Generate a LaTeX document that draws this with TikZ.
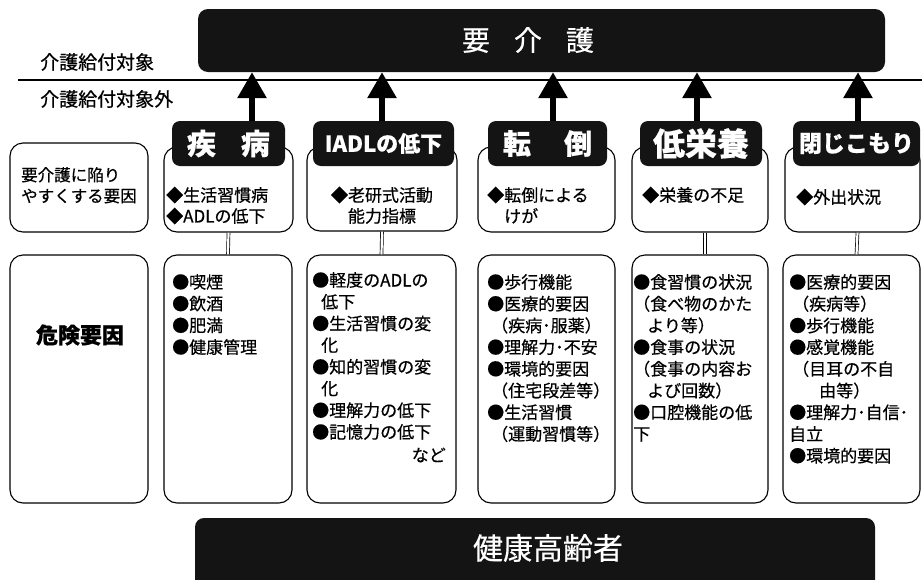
\documentclass[tikz,border=0pt]{standalone}
\usepackage{fontspec}
\setmainfont{Noto Sans CJK JP}[FakeBold=0.5]
\usetikzlibrary{arrows.meta}
\begin{document}
\begin{tikzpicture}[x=1pt,y=-1pt,
  wbox/.style={draw=black, line width=1.1pt, rounded corners=13pt, fill=white, inner sep=0pt},
  bbox/.style={fill=black!92, rounded corners=8pt, inner sep=0pt, text=white},
  lbl/.style={bbox, minimum height=45pt, font=\bfseries},
  body/.style={inner sep=0pt, anchor=north west, align=left, font=\fontsize{17}{21.7}\selectfont},
  ubody/.style={inner sep=0pt, anchor=north west, align=left, font=\fontsize{17}{21}\selectfont},
  side/.style={inner sep=0pt, anchor=west, font=\fontsize{19}{19}\selectfont},
  uparrow/.style={line width=6pt, -{Triangle[width=28pt,length=26pt]}},
  link/.style={double, double distance=2.2pt, line width=0.7pt}
]
\useasboundingbox (0,0) rectangle (922,579);
\clip (0,0) rectangle (922,579);
\fill[white] (0,0) rectangle (922,579);

% top box
\node[bbox, minimum width=687pt, minimum height=63pt, rounded corners=10pt] (top) at (541.5,40.5) {};
\node[text=white, inner sep=0pt, font=\fontsize{28}{28}\selectfont] (toptext) at (528,40) {要\hspace{24pt}介\hspace{24pt}護};

% divider line and side labels
\draw[line width=1.6pt] (18,80) -- (922,80);
\node[side] (in) at (40,62) {介護給付対象};
\node[side] (out) at (40,99) {介護給付対象外};

% upper boxes
\node[wbox, minimum width=138pt, minimum height=89pt] (uL) at (79,187.5) {};
\node[wbox, minimum width=129pt, minimum height=85pt] (u1) at (228.5,189.5) {};
\node[wbox, minimum width=150pt, minimum height=84pt] (u2) at (382,189) {};
\node[wbox, minimum width=137pt, minimum height=85pt] (u3) at (546.5,189.5) {};
\node[wbox, minimum width=136pt, minimum height=85pt] (u4) at (700,189.5) {};
\node[wbox, minimum width=135pt, minimum height=85pt] (u5) at (852.5,189.5) {};

% lower boxes
\node[wbox, minimum width=138pt, minimum height=248pt] (dL) at (79,379) {};
\node[wbox, minimum width=128pt, minimum height=248pt] (d1) at (228,379) {};
\node[wbox, minimum width=149pt, minimum height=248pt] (d2) at (381.5,379) {};
\node[wbox, minimum width=137pt, minimum height=248pt] (d3) at (546.5,379) {};
\node[wbox, minimum width=136pt, minimum height=248pt] (d4) at (700,379) {};
\node[wbox, minimum width=137pt, minimum height=248pt] (d5) at (851.5,379) {};

% links between upper and lower boxes
\draw[link] (u1.south) -- (d1.north);
\draw[link] (u2.south) -- (d2.north);
\draw[link] ([xshift=3pt]u3.south) -- ([xshift=3pt]d3.north);
\draw[link] ([xshift=5pt]u4.south) -- ([xshift=5pt]d4.north);
\draw[link] ([xshift=5pt]u5.south) -- ([xshift=5pt]d5.north);

% black labels
\node[lbl, minimum width=113pt, font=\fontsize{29}{29}\selectfont\bfseries] (l1) at (228.5,143.5) {疾\hspace{25pt}病};
\node[lbl, minimum width=141pt, font=\fontsize{22}{22}\selectfont\bfseries] (l2) at (383.5,143.5) {IADLの低下};
\node[lbl, minimum width=119pt, font=\fontsize{28}{28}\selectfont\bfseries] (l3) at (547.5,143.5) {転\hspace{33pt}倒};
\node[lbl, minimum width=122pt, font=\fontsize{32}{32}\selectfont\bfseries] (l4) at (701,143.5) {低栄養};
\node[lbl, minimum width=127pt, font=\fontsize{23}{23}\selectfont\bfseries] (l5) at (856.5,143.5) {閉じこもり};

% arrows
\draw[uparrow] ([xshift=23.5pt]l1.north) -- ([xshift=23.5pt]l1.north |- top.south);
\draw[uparrow] ([xshift=-1.5pt]l2.north) -- ([xshift=-1.5pt]l2.north |- top.south);
\draw[uparrow] ([xshift=5.5pt]l3.north) -- ([xshift=5.5pt]l3.north |- top.south);
\draw[uparrow] ([xshift=-4pt]l4.north) -- ([xshift=-4pt]l4.north |- top.south);
\draw[uparrow] ([xshift=1.5pt]l5.north) -- ([xshift=1.5pt]l5.north |- top.south);

% left texts
\node[inner sep=0pt, anchor=north west, align=left, font=\fontsize{16.5}{21}\selectfont] (tL) at (21,167) {要介護に陥り\\やすくする要因};
\node[inner sep=0pt, font=\fontsize{22}{22}\selectfont\bfseries] (tR) at (80,335) {危険要因};

% upper texts
\node[ubody] (tu1) at (166,186.5) {◆生活習慣病\\◆ADLの低下};
\node[inner sep=0pt, anchor=north, align=center, font=\fontsize{17}{21}\selectfont] (tu2) at (382,186.5) {◆老研式活動\\能力指標};
\node[ubody] (tu3) at (487,186.5) {◆転倒による\\\hspace{17pt}けが};
\node[ubody] (tu4) at (642,186.5) {◆栄養の不足};
\node[ubody] (tu5) at (796,188.5) {◆外出状況};

% lower texts
\node[body] (td1) at (172,274) {●喫煙\\●飲酒\\●肥満\\●健康管理};
\node[body] (td2) at (312,272) {●軽度のADLの\\\hspace{9pt}低下\\●生活習慣の変\\\hspace{9pt}化\\●知的習慣の変\\\hspace{9pt}化\\●理解力の低下\\●記憶力の低下};
\node[inner sep=0pt, anchor=east, font=\fontsize{17}{17}\selectfont] (nado) at (446,455) {など};
\node[body] (td3) at (487,274) {●歩行機能\\●医療的要因\\\hspace{4pt}（疾病･服薬）\\●理解力･不安\\●環境的要因\\\hspace{4pt}（住宅段差等）\\●生活習慣\\\hspace{4pt}（運動習慣等）};
\node[body] (td4) at (633,274) {●食習慣の状況\\（食べ物のかた\\\hspace{14pt}より等）\\●食事の状況\\（食事の内容お\\\hspace{14pt}よび回数）\\●口腔機能の低\\下};
\node[body] (td5) at (789,274) {●医療的要因\\\hspace{3pt}（疾病等）\\●歩行機能\\●感覚機能\\\hspace{3pt}（目耳の不自\\\hspace{30pt}由等）\\●理解力･自信･\\自立\\●環境的要因};

% bottom box
\node[bbox, minimum width=680pt, minimum height=90pt, rounded corners=9pt] (base) at (535,563) {};
\node[text=white, inner sep=0pt, font=\fontsize{30}{30}\selectfont] (basetext) at (548,548) {健康高齢者};
\end{tikzpicture}
\end{document}
